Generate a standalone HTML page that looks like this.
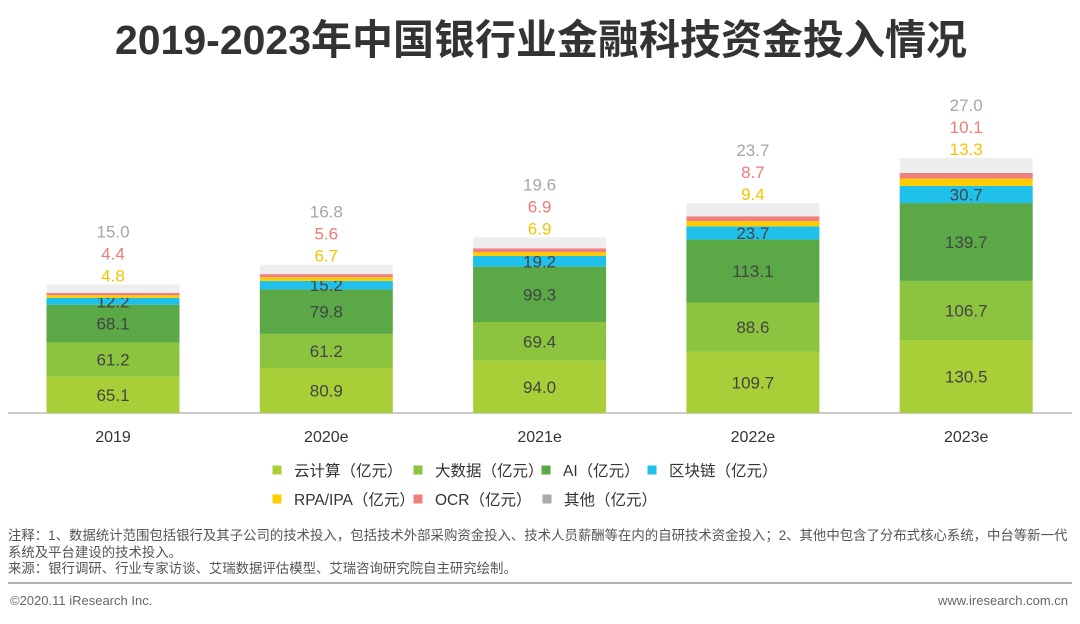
<!DOCTYPE html>
<html><head><meta charset="utf-8"><style>
body{margin:0;background:#fff;width:1080px;height:619px;overflow:hidden;font-family:"Liberation Sans","Noto Sans CJK SC",sans-serif}
svg text{font-family:"Liberation Sans","Noto Sans CJK SC",sans-serif}
</style></head><body>
<svg id="c" width="1080" height="619" viewBox="0 0 1080 619">
<text x="541" y="54" text-anchor="middle" font-size="41" font-weight="bold" fill="#333">2019-2023年中国银行业金融科技资金投入情况</text>
<line x1="8" y1="413" x2="1072" y2="413" stroke="#bbb" stroke-width="1.5"/>
<g id="bars"></g>
<g id="legend"></g>
<text x="8" y="540" font-size="13.4" fill="#555">注释：1、数据统计范围包括银行及其子公司的技术投入，包括技术外部采购资金投入、技术人员薪酬等在内的自研技术资金投入；2、其他中包含了分布式核心系统，中台等新一代</text>
<text x="8" y="557" font-size="13.4" fill="#555">系统及平台建设的技术投入。</text>
<text x="8" y="573" font-size="13.4" fill="#555">来源：银行调研、行业专家访谈、艾瑞数据评估模型、艾瑞咨询研究院自主研究绘制。</text>
<line x1="8" y1="583" x2="1072" y2="583" stroke="#999" stroke-width="1.5"/>
<text x="10" y="605" font-size="13" fill="#666">©2020.11 iResearch Inc.</text>
<text x="1068" y="605" font-size="13" fill="#666" text-anchor="end">www.iresearch.com.cn</text>
</svg>
<script>
const categories=["2019","2020e","2021e","2022e","2023e"];
const seriesNames=["云计算（亿元）","大数据（亿元）","AI（亿元）","区块链（亿元）","RPA/IPA（亿元）","OCR（亿元）","其他（亿元）"];
const cloud=[65.1,80.9,94.0,109.7,130.5];
const bigData=[61.2,61.2,69.4,88.6,106.7];
const ai=[68.1,79.8,99.3,113.1,139.7];
const blockchain=[12.2,15.2,19.2,23.7,30.7];
const rpa=[4.8,6.7,6.9,9.4,13.3];
const ocr=[4.4,5.6,6.9,8.7,10.1];
const other=[15.0,16.8,19.6,23.7,27.0];
const colors=["#a9cf38","#8cc43f","#5aa846","#1fc0ea","#ffcc00","#f08080","#eeeeee"];
const labelColors=[null,null,null,null,"#f5c400","#ef7a7a","#a6a6a6"];
const ns="http://www.w3.org/2000/svg";
const base=413,scale=0.557,x0=113,step=213.3,bw=133;
const yv=v=>v*scale;
const xc=i=>x0+i*step;
const series=[cloud,bigData,ai,blockchain,rpa,ocr,other];
const g=document.getElementById('bars');
function mk(tag,attrs){const e=document.createElementNS(ns,tag);for(const k in attrs)e.setAttribute(k,attrs[k]);return e;}
categories.forEach((c,i)=>{
  let y=base;
  series.forEach((s,j)=>{
    const h=yv(s[i]);
    const r=mk('rect',{x:xc(i)-bw/2,y:y-h,width:bw,height:h,fill:colors[j]});
    
    
    g.appendChild(r);
    if(j<4){
      const t=mk('text',{x:xc(i),y:y-h/2+6,'text-anchor':'middle','font-size':17,fill:'#444'});
      t.textContent=s[i].toFixed(1);
      
      
      g.appendChild(t);
    }
    y-=h;
  });
  const top=y;
  [4,5,6].forEach((j,k)=>{
    const t=mk('text',{x:xc(i),y:top-9-22*k+6,'text-anchor':'middle','font-size':17,fill:labelColors[j]});
    t.textContent=series[j][i].toFixed(1);
    
    
    g.appendChild(t);
  });
  const t=mk('text',{x:xc(i),y:442,'text-anchor':'middle','font-size':16,fill:'#333'});
  t.textContent=c;
  
  
  g.appendChild(t);
});
const lg=document.getElementById('legend');
const lpos=[[277,470],[418,470],[546,470],[652,470],[277,499],[418,499],[547,499]];
seriesNames.forEach((n,j)=>{
  const [x,y]=lpos[j];
  const r=mk('rect',{x:x-4.5,y:y-4.5,width:9,height:9,fill:j==6?'#aaa':colors[j]});
  
  
  lg.appendChild(r);
  const t=mk('text',{x:x+17,y:y+6,'font-size':15.5,fill:'#333'});
  t.textContent=n;
  
  
  lg.appendChild(t);
});
</script>
</body></html>
